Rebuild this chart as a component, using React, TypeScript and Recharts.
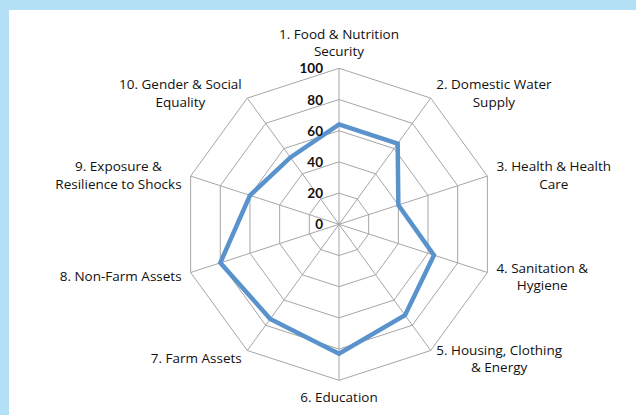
import { RadarChart, Radar, PolarGrid, PolarAngleAxis, PolarRadiusAxis } from "recharts"

const dimensions = [
  "1. Food & Nutrition\nSecurity",
  "2. Domestic Water\nSupply",
  "3. Health & Health\nCare",
  "4. Sanitation &\nHygiene",
  "5. Housing, Clothing\n& Energy",
  "6. Education",
  "7. Farm Assets",
  "8. Non-Farm Assets",
  "9. Exposure &\nResilience to Shocks",
  "10. Gender & Social\nEquality",
]

const scores = [64, 64, 40, 64, 72, 83, 75, 80, 60, 53]

const radiusTicks = [0, 20, 40, 60, 80, 100]

const chartData = dimensions.map((name, i) => ({ name, score: scores[i] }))

const LABEL_FONT = "'Open Sans', Lato, sans-serif"
const TICK_FONT = "Lato, 'Open Sans', sans-serif"
const LABEL_SIZE = 13.5
const LINE_H = 17.5
const TICK = 8

let ctx: CanvasRenderingContext2D | null = null
function textWidth(s: string) {
  if (!ctx) ctx = document.createElement("canvas").getContext("2d")
  if (!ctx) return s.length * 7
  ctx.font = `${LABEL_SIZE}px 'Open Sans'`
  return ctx.measureText(s).width
}

function AngleTick(props: any) {
  const { x, y, payload } = props
  const lines: string[] = String(payload.value).split("\n")
  const rad = (payload.coordinate * Math.PI) / 180
  const c = Math.cos(rad)
  const s = Math.sin(rad)
  // back to the outer vertex
  const vx = x - TICK * c
  const vy = y + TICK * s
  const n = lines.length
  let cxText = vx
  let firstY: number

  if (Math.abs(c) < 0.1) {
    if (s > 0) firstY = vy - 17 - (n - 1) * LINE_H
    else firstY = vy + 17
  } else {
    const maxW = Math.max(...lines.map(textWidth))
    const edge = vx + Math.sign(c) * 9.5 * Math.abs(c)
    cxText = edge + Math.sign(c) * (maxW / 2)
    const centerY = vy + 1.5 - 8 * s
    firstY = centerY - ((n - 1) * LINE_H) / 2
  }

  return (
    <g>
      {lines.map((ln, i) => (
        <text
          key={i}
          x={cxText}
          y={firstY + i * LINE_H}
          textAnchor="middle"
          dominantBaseline="central"
          fontFamily={LABEL_FONT}
          fontSize={LABEL_SIZE}
          fill="#111"
        >
          {ln}
        </text>
      ))}
    </g>
  )
}

function RadiusTick(props: any) {
  const { x, y, payload } = props
  return (
    <text
      x={x - 16}
      y={y}
      textAnchor="end"
      dominantBaseline="central"
      fontFamily={TICK_FONT}
      fontWeight={700}
      fontSize={13.5}
      fill="#111"
    >
      {payload.value}
    </text>
  )
}

export default function App() {
  return (
    <div
      style={{
        position: "absolute",
        top: 0,
        left: 0,
        width: 636,
        height: 415,
        background: "#b4e0f6",
      }}
    >
      <div
        style={{
          position: "absolute",
          top: 10,
          left: 9,
          width: 627,
          height: 405,
          background: "#ffffff",
        }}
      >
        <RadarChart
          width={627}
          height={405}
          data={chartData}
          cx={330}
          cy={214.3}
          outerRadius={156}
          margin={{ top: 0, right: 0, bottom: 0, left: 0 }}
        >
          <PolarGrid gridType="polygon" stroke="#a6a6a6" strokeWidth={1} />
          <PolarAngleAxis
            dataKey="name"
            tick={AngleTick}
            tickSize={TICK}
            tickLine={false}
            axisLine={false}
          />
          <PolarRadiusAxis
            angle={90}
            type="number"
            domain={[0, 100]}
            ticks={radiusTicks as any}
            tickCount={6}
            tick={RadiusTick}
            axisLine={false}
          />
          <Radar
            dataKey="score"
            stroke="#5a93cc"
            strokeWidth={4.5}
            fill="none"
            fillOpacity={0}
            dot={false}
            isAnimationActive={false}
          />
        </RadarChart>
      </div>
    </div>
  )
}
